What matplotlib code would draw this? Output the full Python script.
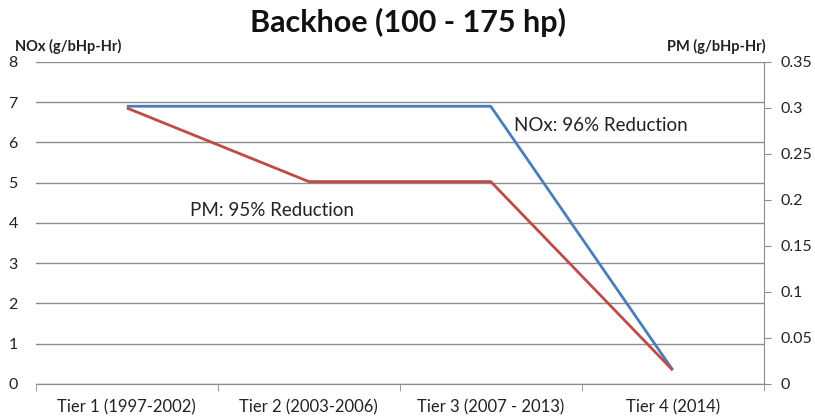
import numpy as np
import matplotlib.pyplot as plt

plt.rcParams['font.family'] = ['Lato', 'DejaVu Sans']

tiers = ["Tier 1 (1997-2002)", "Tier 2 (2003-2006)", "Tier 3 (2007 - 2013)", "Tier 4 (2014)"]
nox = [6.9, 6.9, 6.9, 0.35]
pm = [0.30, 0.22, 0.22, 0.015]

BLUE = "#4a7ebb"
RED = "#be4b48"
GRID = "#8c8c8c"

fig = plt.figure(figsize=(8.15, 4.16), dpi=100)
ax = fig.add_axes([0.044, 0.077, 0.893, 0.774])
ax2 = ax.twinx()

x = np.arange(len(tiers))
ax.plot(x, nox, color=BLUE, linewidth=2.0, solid_capstyle="butt", zorder=3)
ax2.plot(x, pm, color=RED, linewidth=2.0, solid_capstyle="butt", zorder=3)

ax.set_xlim(-0.5, len(tiers) - 0.5)
ax.set_ylim(0, 8)
ax.set_yticks(range(0, 9))
ax2.set_ylim(0, 0.35)
ax2.set_yticks(np.arange(0, 0.351, 0.05))
ax2.set_yticklabels(["0", "0.05", "0.1", "0.15", "0.2", "0.25", "0.3", "0.35"])

ax.yaxis.grid(True, color=GRID, linewidth=1.0)
ax.set_axisbelow(True)

# category labels centered, ticks on boundaries
ax.set_xticks(x)
ax.set_xticklabels(tiers, fontsize=12, color="#222")
ax.tick_params(axis="x", length=0, pad=11)
ax.set_xticks(np.arange(-0.5, len(tiers)), minor=True)
ax.tick_params(axis="x", which="minor", length=5, color=GRID, direction="out")

ax.tick_params(axis="y", length=0, labelsize=11.5, colors="#222", pad=13)
ax2.tick_params(axis="y", length=5, color=GRID, labelsize=11.5, labelcolor="#222", pad=7)

for a in (ax, ax2):
    a.spines["top"].set_visible(False)
    a.spines["left"].set_visible(False)
    a.spines["bottom"].set_color(GRID)
    a.spines["right"].set_color(GRID)
ax.spines["right"].set_visible(False)

ax.text(2.13, 6.43, "NOx: 96% Reduction", fontsize=13.5, color="#222", va="center")
ax.text(0.346, 4.3, "PM: 95% Reduction", fontsize=13.5, color="#222", va="center")

fig.text(0.5, 0.945, "Backhoe (100 - 175 hp)", ha="center", va="center",
         fontsize=22, fontweight="bold", color="#111")
fig.text(0.018, 0.888, "NOx (g/bHp-Hr)", ha="left", va="center",
         fontsize=10.5, fontweight="bold", color="#222")
fig.text(0.94, 0.888, "PM (g/bHp-Hr)", ha="right", va="center",
         fontsize=10.5, fontweight="bold", color="#222")

fig.savefig("out.png", dpi=100, facecolor="white")
